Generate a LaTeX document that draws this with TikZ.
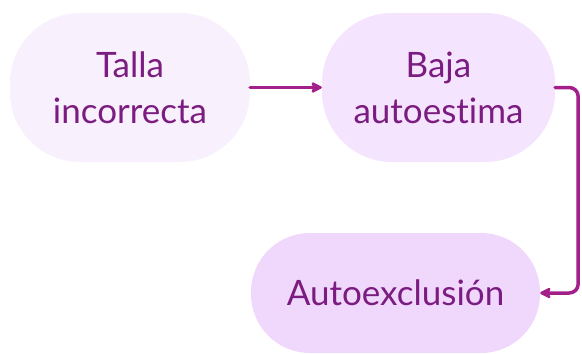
\documentclass[tikz,border=0pt]{standalone}
\usepackage{fontspec}
\setmainfont{Lato}[Ligatures={NoCommon}]
\usepackage{xcolor}
\usetikzlibrary{arrows.meta,
	positioning}

\definecolor{boxtext}{HTML}{7B1C80}
\definecolor{linkcol}{HTML}{A3208A}
\definecolor{fillA}{HTML}{F9F0FE}
\definecolor{fillB}{HTML}{F5E4FD}
\definecolor{fillC}{HTML}{F0D8FC}

\tikzset{
	pill/.style={rectangle, rounded corners=#1, inner sep=0pt, align=center,
		text=boxtext, font=\fontsize{35}{46}\selectfont},
	link/.style={linkcol, line width=3.5pt, line cap=round,
		-{Stealth[length=13pt, width=13pt, inset=3pt, round]}}
}

\begin{document}
\begin{tikzpicture}[x=1pt, y=1pt]
            \useasboundingbox (0, 0) rectangle (582, -354);

            \node[pill=70pt, fill=fillA, minimum width=240pt, minimum height=149pt] (talla) at (130, -87.5) {Talla\\incorrecta};
            \node[pill=70pt, fill=fillB, minimum width=233pt, minimum height=149pt] (baja) at (438.5, -87.5) {Baja\\autoestima};
            \node[pill=59pt, fill=fillC, minimum width=289pt, minimum height=120pt] (autoex) at (395.5, -293) {Autoexclusión};

            \draw[link] (talla.east) -- (baja.west);
            \draw[link, rounded corners=9pt] (baja.east) -- ++(23, 0) |- (autoex.east);
        \end{tikzpicture}
\end{document}
